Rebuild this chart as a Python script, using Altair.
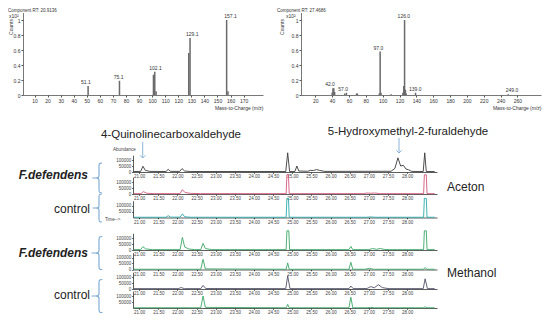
import altair as alt
import pandas as pd

FONT = "Liberation Sans"
W, H = 534, 308

# ---------------- data ----------------
spec_titles = ["Component RT: 20.9136", "Component RT: 27.4686"]

ms1_mz = [51, 75, 101, 102, 103, 128, 129, 157, 158]
ms1_counts = [0.12, 0.19, 0.27, 0.31, 0.05, 0.56, 0.76, 1.0, 0.05]
ms1_label_mz = [51.1, 75.1, 102.1, 129.1, 157.1]
ms1_label_counts = [0.12, 0.19, 0.31, 0.76, 1.0]
ms1_ticks = [10, 20, 30, 40, 50, 60, 70, 80, 90, 100, 110, 120, 130, 140, 150, 160, 170]

ms2_mz = [40, 41, 42, 43, 55, 57, 69, 70, 96, 97, 98, 110, 124, 125, 126, 127, 128, 139, 249]
ms2_counts = [0.03, 0.09, 0.09, 0.04, 0.02, 0.03, 0.02, 0.02, 0.02, 0.58, 0.03, 0.01,
              0.03, 0.12, 1.0, 0.07, 0.02, 0.03, 0.01]
ms2_label_mz = [42.0, 57.0, 97.0, 126.0, 139.0, 249.0]
ms2_label_counts = [0.09, 0.03, 0.58, 1.0, 0.03, 0.01]
ms2_ticks = [20, 40, 60, 80, 100, 120, 140, 160, 180, 200, 220, 240, 260]

count_ticks = [0, 0.2, 0.4, 0.6, 0.8, 1]
time_ticks = [21.0, 21.5, 22.0, 22.5, 23.0, 23.5, 24.0, 24.5, 25.0, 25.5, 26.0, 26.5, 27.0, 27.5, 28.0]

# chromatogram traces (retention time, abundance)
s1_t = [20.86, 21.04, 21.10, 21.16, 21.28, 21.70, 21.76, 21.82, 22.06, 22.12, 22.19, 22.35,
        24.83, 24.88, 24.93, 25.07, 25.12, 25.17, 25.40, 25.48, 25.55, 25.63, 25.72, 25.85,
        27.58, 27.68, 27.76, 27.83, 27.90, 27.97, 28.04, 28.12, 28.42, 28.46, 28.50, 28.72]
s1_v = [4000, 5000, 48000, 14000, 5000, 4000, 22000, 5000, 5000, 28000, 8000, 4000,
        4000, 160000, 4000, 5000, 50000, 8000, 6000, 14000, 12000, 20000, 13000, 5000,
        6000, 30000, 118000, 50000, 56000, 25000, 18000, 5000, 4000, 160000, 4000, 4000]

s2_t = [20.86, 21.05, 21.11, 21.20, 21.40, 22.07, 22.13, 22.20, 22.35, 22.60, 24.84, 24.86,
        24.90, 24.92, 26.85, 26.95, 27.05, 27.15, 27.30, 28.43, 28.45, 28.50, 28.52, 28.72]
s2_v = [3000, 3000, 20000, 6000, 3000, 3000, 36000, 12000, 5000, 3000, 3000, 160000,
        160000, 3000, 3000, 8000, 6000, 8000, 3000, 3000, 160000, 160000, 3000, 3000]

s3_t = [20.86, 21.70, 21.76, 21.82, 22.07, 22.13, 22.19, 22.35, 24.84, 24.86, 24.90, 24.92,
        26.95, 27.05, 27.15, 28.43, 28.45, 28.50, 28.52, 28.72]
s3_v = [2000, 2000, 15000, 3000, 3000, 30000, 6000, 2000, 2000, 160000, 160000, 2000,
        2000, 5000, 2000, 2000, 160000, 160000, 2000, 2000]

s4_t = [20.86, 21.04, 21.10, 21.17, 21.35, 22.07, 22.13, 22.19, 22.30, 22.45, 22.61, 22.67,
        22.73, 22.90, 24.84, 24.86, 24.91, 24.93, 26.48, 26.53, 26.58, 27.00, 27.10, 27.20,
        27.30, 27.40, 27.55, 28.43, 28.45, 28.50, 28.52, 28.72]
s4_v = [3000, 3000, 28000, 9000, 3000, 3000, 105000, 25000, 8000, 3000, 3000, 55000,
        12000, 3000, 3000, 160000, 160000, 3000, 3000, 30000, 3000, 3000, 12000, 6000,
        12000, 5000, 3000, 3000, 160000, 160000, 3000, 3000]

s5_t = [20.86, 22.61, 22.67, 22.73, 24.84, 24.88, 24.92, 26.48, 26.53, 26.58, 26.90, 27.02,
        27.12, 28.42, 28.47, 28.52, 28.72]
s5_v = [2000, 2000, 85000, 5000, 2000, 55000, 2000, 2000, 60000, 2000, 2000, 10000,
        2000, 2000, 15000, 2000, 2000]

s6_t = [20.86, 22.02, 22.10, 22.18, 22.61, 22.67, 22.74, 24.83, 24.88, 24.94, 26.48, 26.53,
        26.59, 26.95, 27.05, 27.14, 27.25, 27.35, 27.45, 27.55, 28.42, 28.47, 28.53, 28.72]
s6_v = [3000, 3000, 12000, 3000, 3000, 30000, 4000, 3000, 110000, 3000, 3000, 25000,
        3000, 4000, 20000, 10000, 36000, 12000, 6000, 3000, 3000, 85000, 3000, 3000]

s7_t = [20.86, 22.61, 22.67, 22.73, 24.84, 24.88, 24.92, 26.48, 26.53, 26.58, 26.95, 27.05,
        27.15, 28.42, 28.47, 28.52, 28.72]
s7_v = [2000, 2000, 100000, 5000, 2000, 30000, 2000, 2000, 90000, 2000, 2000, 5000,
        2000, 2000, 10000, 2000, 2000]

compound_labels = ["4-Quinolinecarboxaldehyde", "5-Hydroxymethyl-2-furaldehyde"]
group_labels = ["F.defendens", "control"]
solvent_labels = ["Aceton", "Methanol"]
axis_words = ["Counts", "x10\u00b2", "Mass-to-Charge (m/z)", "Abundance", "Time-->"]

ONE = pd.DataFrame({"k": [0]})

# ---------------- helpers ----------------
SPEC_BASE, SPEC_TOP = 87, 4.5


def spectrum(mz, counts, lab_mz, lab_c, xdom, xrng, xticks):
    xs = alt.Scale(domain=xdom, range=xrng, nice=False, zero=False)
    ys = alt.Scale(domain=[0, 1.1], range=[SPEC_BASE, SPEC_TOP], nice=False)
    df = pd.DataFrame({"mz": mz, "counts": counts})
    bars = alt.Chart(df).mark_bar(size=1.5, color="#6a6a6a").encode(
        x=alt.X("mz:Q", scale=xs, axis=alt.Axis(
            orient="bottom", offset=SPEC_BASE - H, values=xticks, format="d",
            labelFontSize=5, labelFont=FONT, labelColor="#333", labelPadding=1,
            labelFlush=False, labelOverlap=False, tickSize=2, tickColor="#555",
            domainColor="#555", domainWidth=0.8, grid=False,
            title=axis_words[2], titleFontSize=5, titleFont=FONT,
            titleFontWeight="normal", titleAnchor="end", titlePadding=2,
            titleColor="#333")),
        y=alt.Y("counts:Q", scale=ys, axis=alt.Axis(
            orient="left", offset=-xrng[0], values=count_ticks, format="~g",
            labelFontSize=5, labelFont=FONT, labelColor="#333", labelPadding=1,
            labelFlush=False, labelOverlap=False, tickSize=2, tickColor="#555",
            domainColor="#555", domainWidth=0.8, grid=False, title=None)),
    )
    ldf = pd.DataFrame({"mz": lab_mz, "counts": lab_c,
                        "txt": [f"{m:.1f}" for m in lab_mz]})
    labs = alt.Chart(ldf).mark_text(fontSize=5, font=FONT, color="#333", dy=-4).encode(
        x=alt.X("mz:Q", scale=xs, axis=None),
        y=alt.Y("counts:Q", scale=ys, axis=None),
        text="txt:N",
    )
    return [bars, labs]


X0, X1 = 125, 429


def strip(t, v, color, base, yvals):
    df = pd.DataFrame({"t": t, "v": v})
    return alt.Chart(df).mark_line(color=color, strokeWidth=0.9, clip=False).encode(
        x=alt.X("t:Q", scale=alt.Scale(domain=[20.84, 28.78], range=[X0, X1],
                                       nice=False, zero=False),
                axis=alt.Axis(orient="bottom", offset=base - H, values=time_ticks,
                              format=".2f", labelFontSize=4.5, labelFont=FONT,
                              labelColor="#444", labelPadding=0.5, labelFlush=False,
                              labelOverlap=False, tickSize=1.2, tickColor="#333",
                              domainColor="#333", domainWidth=0.8, grid=False,
                              title=None)),
        y=alt.Y("v:Q", scale=alt.Scale(domain=[0, 140000], range=[base, base - 16.8],
                                       nice=False, zero=False),
                axis=alt.Axis(orient="left", offset=-X0, values=yvals, format="d",
                              labelFontSize=4.5, labelFont=FONT, labelColor="#444",
                              labelPadding=1, labelFlush=False, labelOverlap=False,
                              tickSize=1.2, tickColor="#333", domainColor="#333",
                              domainWidth=0.8, grid=False, title=None)),
        order=alt.Order("t:Q"),
    )


def label(text, x, y, size=12, align="left", weight="normal", style="normal",
          color="#222", angle=0, baseline="middle"):
    return alt.Chart(ONE).mark_text(
        text=text, fontSize=size, align=align, baseline=baseline, fontWeight=weight,
        fontStyle=style, color=color, angle=angle, font=FONT,
    ).encode(x=alt.value(x), y=alt.value(y))


BRACE = ("M0.2,-1 C0.02,-1 0,-0.95 0,-0.8 L0,-0.15 C0,-0.04 -0.08,0 -0.2,0 "
         "C-0.08,0 0,0.04 0,0.15 L0,0.8 C0,0.95 0.02,1 0.2,1 M-0.2,0 L-0.45,0")


def brace(x, y, height, color="#7aa7d4"):
    return alt.Chart(ONE).mark_point(
        shape=BRACE, size=height * height, filled=False, color=color,
        strokeWidth=1.1, opacity=1).encode(x=alt.value(x), y=alt.value(y))


def arrow(x, y1, y2, color="#8db4da"):
    shaft = alt.Chart(ONE).mark_rule(color=color, strokeWidth=1).encode(
        x=alt.value(x), y=alt.value(y1), y2=alt.value(y2))
    head = alt.Chart(ONE).mark_point(
        shape="M-1,-1L0,0L1,-1", size=28, filled=False, color=color, strokeWidth=1,
        opacity=1).encode(x=alt.value(x), y=alt.value(y2))
    return [shaft, head]


layers = []
layers += spectrum(ms1_mz, ms1_counts, ms1_label_mz, ms1_label_counts, [5, 181], [15, 255], ms1_ticks)
layers += spectrum(ms2_mz, ms2_counts, ms2_label_mz, ms2_label_counts, [9, 282], [293, 533], ms2_ticks)

full = [0, 50000, 100000]
part = [50000, 100000]
strips = [
    (s1_t, s1_v, "#3a3a3a", 164, full),
    (s2_t, s2_v, "#d2577c", 186, full),
    (s3_t, s3_v, "#2ba9aa", 209.5, part),
    (s4_t, s4_v, "#3aa765", 242, full),
    (s5_t, s5_v, "#3aa765", 261.5, full),
    (s6_t, s6_v, "#50506a", 281, full),
    (s7_t, s7_v, "#3aa765", 300, part),
]
for t, v, c, b, yv in strips:
    layers.append(strip(t, v, c, b, yv))

# annotations
ann = [
    label(spec_titles[0], 0, 2.5, size=4.5, color="#333"),
    label(spec_titles[1], 269, 2.5, size=4.5, color="#333"),
    label(axis_words[0], 2.5, 19, size=5, color="#333", angle=270, align="center"),
    label(axis_words[0], 274, 19, size=5, color="#333", angle=270, align="center"),
    label(axis_words[1], 1, 8, size=5, color="#333"),
    label(axis_words[1], 278, 8, size=5, color="#333"),
    label(compound_labels[0], 163, 127, size=11.5, align="center"),
    label(compound_labels[1], 400, 124, size=11.5, align="center"),
    label(axis_words[3], 105, 141.5, size=4.5, color="#444"),
    label(axis_words[4], 97, 211.5, size=4.5, color="#444"),
    label(group_labels[0], 80, 167, size=12, align="right", weight="bold", style="italic"),
    label(group_labels[1], 82, 201, size=12, align="right"),
    label(group_labels[0], 80, 245, size=12, align="right", weight="bold", style="italic"),
    label(group_labels[1], 82, 287, size=12, align="right"),
    label(solvent_labels[0], 439, 179, size=12),
    label(solvent_labels[1], 439, 265, size=12),
    brace(91, 170, 30),
    brace(91, 200, 28),
    brace(91, 245, 33),
    brace(91, 288, 33),
]
ann += arrow(134.7, 134, 150)
ann += arrow(391, 130, 145)

chart = alt.layer(*layers, *ann).resolve_scale(
    x="independent", y="independent"
).properties(
    width=W, height=H, padding=0, autosize=alt.AutoSizeParams(type="none"),
    background="white",
).configure_view(stroke=None)

chart.save("out.html", embed_options={"renderer": "svg", "actions": False})
